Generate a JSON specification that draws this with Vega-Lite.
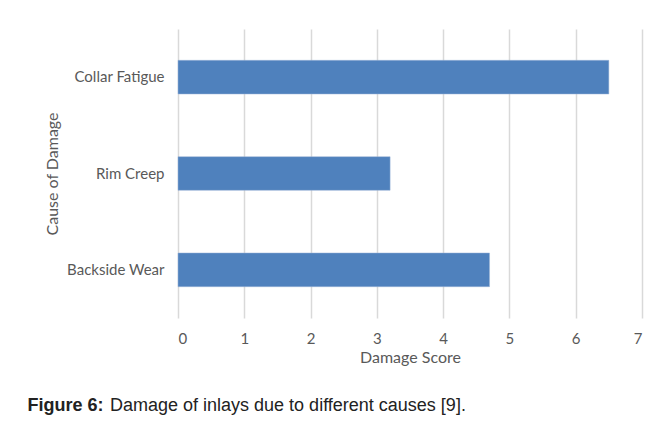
{
  "$schema": "https://vega.github.io/schema/vega-lite/v6.json",
  "autosize": "pad",
  "padding": {"left": 27, "top": 29, "right": 10, "bottom": 5},
  "background": "white",
  "title": {
    "text": "Figure 6:",
    "orient": "bottom",
    "anchor": "start",
    "frame": "bounds",
    "offset": 0,
    "dx": -17,
    "dy": -18,
    "font": "Liberation Sans",
    "fontSize": 18,
    "fontWeight": "bold",
    "color": "#222222"
  },
  "vconcat": [
    {
      "width": 464,
      "height": 289,
      "data": {
        "values": [
          {"cause": "Collar Fatigue", "score": 6.5},
          {"cause": "Rim Creep", "score": 3.2},
          {"cause": "Backside Wear", "score": 4.7}
        ]
      },
      "title": {
        "text": "Damage of inlays due to different causes [9].",
        "orient": "bottom",
        "anchor": "start",
        "frame": "group",
        "offset": 32,
        "dx": -68,
        "font": "Liberation Sans",
        "fontSize": 18,
        "fontWeight": "normal",
        "color": "#222222"
      },
      "mark": {"type": "bar", "color": "#4f81bd", "stroke": "#9db5d8", "strokeWidth": 0.5},
      "encoding": {
        "y": {
          "field": "cause",
          "type": "nominal",
          "sort": null,
          "scale": {"paddingInner": 0.65, "paddingOuter": 0.325},
          "axis": {
            "title": "Cause of Damage",
            "domain": false,
            "ticks": false,
            "labelPadding": 14,
            "labelFont": "Lato",
            "labelFontSize": 15,
            "labelColor": "#595959",
            "titleFont": "Lato",
            "titleFontSize": 16,
            "titleFontWeight": "normal",
            "titleColor": "#595959",
            "titlePadding": 6
          }
        },
        "x": {
          "field": "score",
          "type": "quantitative",
          "scale": {"domain": [0, 7], "nice": false},
          "axis": {
            "title": "Damage Score",
            "values": [0, 1, 2, 3, 4, 5, 6, 7],
            "labelOverlap": false,
            "domain": false,
            "ticks": false,
            "grid": true,
            "gridColor": "#d9d9d9",
            "gridWidth": 1.5,
            "labelPadding": 13,
            "labelFont": "Lato",
            "labelFontSize": 15,
            "labelColor": "#595959",
            "titleFont": "Lato",
            "titleFontSize": 16,
            "titleFontWeight": "normal",
            "titleColor": "#595959",
            "titlePadding": 3
          }
        }
      }
    }
  ],
  "config": {"view": {"stroke": null}}
}
